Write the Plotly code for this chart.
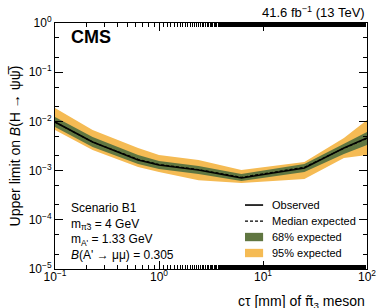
import plotly.graph_objects as go

ctau = [0.1, 0.23, 0.63, 1.0, 2.4, 6.2, 25, 60, 100]
observed = [9.7e-3, 3.8e-3, 1.64e-3, 1.30e-3, 1.03e-3, 7.1e-4, 1.13e-3, 2.88e-3, 4.6e-3]
median = [9.7e-3, 3.8e-3, 1.69e-3, 1.33e-3, 1.05e-3, 7.3e-4, 1.17e-3, 2.85e-3, 4.5e-3]
g68_hi = [1.23e-2, 4.82e-3, 2.07e-3, 1.57e-3, 1.24e-3, 8.5e-4, 1.36e-3, 3.47e-3, 6.1e-3]
g68_lo = [7.7e-3, 3.02e-3, 1.36e-3, 1.08e-3, 8.5e-4, 6.15e-4, 9.4e-4, 2.17e-3, 3.31e-3]
y95_hi = [1.87e-2, 6.7e-3, 2.88e-3, 2.07e-3, 1.64e-3, 1.03e-3, 1.50e-3, 4.6e-3, 1.07e-2]
y95_lo = [6.7e-3, 2.62e-3, 1.18e-3, 9.4e-4, 6.4e-4, 5.6e-4, 6.75e-4, 1.80e-3, 2.07e-3]

x_tickvals = [0.1, 1, 10, 100]
x_ticktext = ["10<sup>−1</sup>", "10<sup>0</sup>", "10<sup>1</sup>", "10<sup>2</sup>"]
y_tickvals = [1e-5, 1e-4, 1e-3, 1e-2, 1e-1, 1]
y_ticktext = ["10<sup>−5</sup>", "10<sup>−4</sup>", "10<sup>−3</sup>", "10<sup>−2</sup>", "10<sup>−1</sup>", "10<sup>0</sup>"]

legend_labels = ["Observed", "Median expected", "68% expected", "95% expected"]

GREEN = "#607641"
ORANGE = "#F5BB54"
FONT = "Liberation Sans"
DASH = "3px,2px"

fig = go.Figure()
fig.add_trace(go.Scatter(x=ctau + ctau[::-1], y=y95_hi + y95_lo[::-1], fill="toself",
                         fillcolor=ORANGE, line=dict(width=0, color=ORANGE), mode="lines",
                         name=legend_labels[3], hoverinfo="skip"))
fig.add_trace(go.Scatter(x=ctau + ctau[::-1], y=g68_hi + g68_lo[::-1], fill="toself",
                         fillcolor=GREEN, line=dict(width=0, color=GREEN), mode="lines",
                         name=legend_labels[2], hoverinfo="skip"))
fig.add_trace(go.Scatter(x=ctau, y=median, mode="lines", line=dict(color="black", width=1.2, dash=DASH),
                         name=legend_labels[1]))
fig.add_trace(go.Scatter(x=ctau, y=observed, mode="lines", line=dict(color="black", width=1.6),
                         name=legend_labels[0]))

axis_common = dict(type="log", showline=True, linecolor="black", linewidth=1, mirror="ticks",
                   ticks="inside", ticklen=8, tickcolor="black", showgrid=False, zeroline=False,
                   automargin=False,
                   tickfont=dict(family=FONT, size=12, color="black"),
                   minor=dict(ticks="inside", ticklen=4, tickcolor="black", showgrid=False))

fig.update_xaxes(range=[-1, 2], tickvals=x_tickvals, ticktext=x_ticktext, ticklabelstandoff=-3, **axis_common)
fig.update_yaxes(range=[-5, 0], tickvals=y_tickvals, ticktext=y_ticktext, **axis_common,
                 title=dict(text="Upper limit on <i>B</i>(H → ψψ̅)", font=dict(family=FONT, size=14, color="black"), standoff=4))

# custom legend (keys + labels), positioned in paper coordinates
key_x0, key_x1, text_x = 0.609, 0.667, 0.689
entry_y = [0.260, 0.195, 0.130, 0.065]
shapes = [
    dict(type="line", xref="paper", yref="paper", x0=key_x0, x1=key_x1, y0=entry_y[0], y1=entry_y[0],
         line=dict(color="black", width=1.6)),
    dict(type="line", xref="paper", yref="paper", x0=key_x0, x1=key_x1, y0=entry_y[1], y1=entry_y[1],
         line=dict(color="black", width=1.2, dash=DASH)),
    dict(type="rect", xref="paper", yref="paper", x0=key_x0, x1=key_x1, y0=entry_y[2] - 0.017, y1=entry_y[2] + 0.017,
         fillcolor=GREEN, line=dict(width=0)),
    dict(type="rect", xref="paper", yref="paper", x0=key_x0, x1=key_x1, y0=entry_y[3] - 0.017, y1=entry_y[3] + 0.017,
         fillcolor=ORANGE, line=dict(width=0)),
]
annotations = [
    dict(text=lab, xref="paper", yref="paper", x=text_x, y=yy, xanchor="left", yanchor="middle",
         showarrow=False, font=dict(family=FONT, size=11))
    for lab, yy in zip(legend_labels, entry_y)
]
annotations += [
    dict(text="41.6 fb<sup>−1</sup> (13 TeV)", xref="paper", yref="paper", x=1.0, y=1.0,
         xanchor="right", yanchor="bottom", yshift=1, showarrow=False, font=dict(family=FONT, size=13)),
    dict(text="<b>CMS</b>", xref="paper", yref="paper", x=0.045, y=0.945, xanchor="left", yanchor="middle",
         showarrow=False, font=dict(family=FONT, size=18)),
    dict(text="cτ [mm] of <span style='font-family:DejaVu Sans'>π̃</span><sub>3</sub> meson", xref="paper", yref="paper",
         x=1.0, y=0, xanchor="right", yanchor="top", yshift=-22, showarrow=False, font=dict(family=FONT, size=14)),
    dict(text="Scenario B1<br>m<sub>π̃3</sub> = 4 GeV<br>m<sub>A'</sub> = 1.33 GeV<br><i>B</i>(A' → μμ) = 0.305",
         xref="paper", yref="paper", x=0.045, y=0.178, xanchor="left", yanchor="middle", yshift=-6, align="left",
         showarrow=False, font=dict(family=FONT, size=12)),
]

fig.update_layout(
    width=381, height=308,
    margin=dict(l=55, r=14, t=23, b=39),
    paper_bgcolor="white", plot_bgcolor="white",
    font=dict(family=FONT, color="black"),
    showlegend=False,
    hovermode=False,
    shapes=shapes,
    annotations=annotations,
)

fig.write_html("out.html", config={"displayModeBar": False},
               post_script="document.body.style.margin='0';document.body.style.overflow='hidden';")
